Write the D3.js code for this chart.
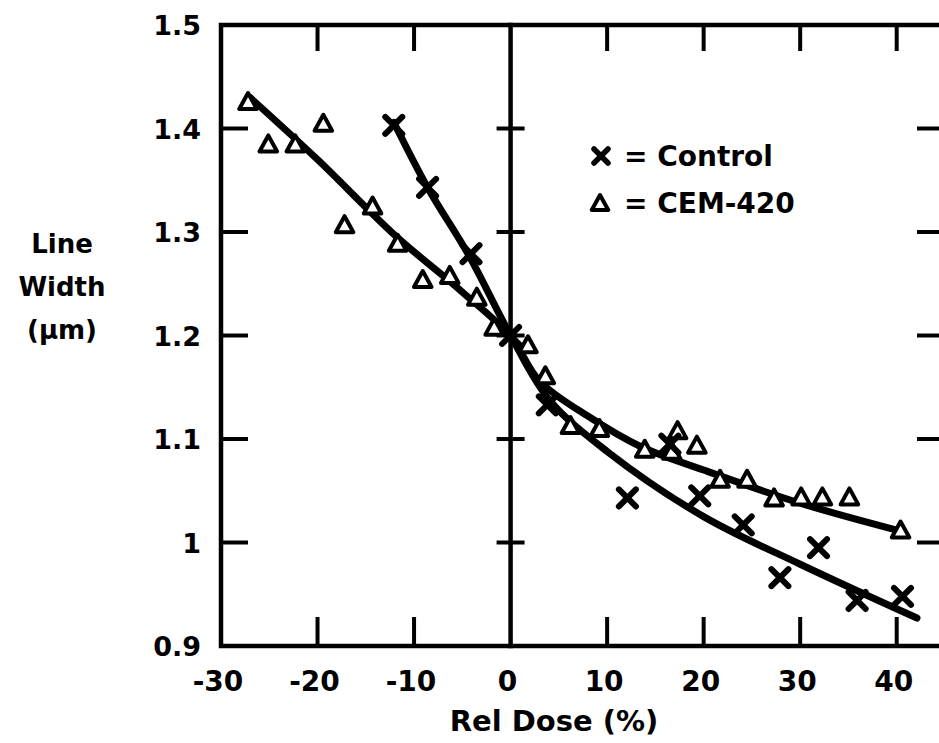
<!DOCTYPE html>
<html>
<head>
<meta charset="utf-8">
<script src="https://cdn.jsdelivr.net/npm/d3@7/dist/d3.min.js"></script>
<style>
  html, body { margin: 0; padding: 0; background: #fff; }
  svg { display: block; }
  text { font-family: "DejaVu Sans", "Liberation Sans", Arial, sans-serif; font-weight: bold; fill: #000; }
</style>
</head>
<body>
<svg id="chart" width="939" height="743"></svg>
<script>
// tick labels
const xTicks = [-30, -20, -10, 0, 10, 20, 30, 40];
const yTicks = [0.9, 1, 1.1, 1.2, 1.3, 1.4, 1.5];
const yTickLabels = ['0.9', '1', '1.1', '1.2', '1.3', '1.4', '1.5'];

// Control (x markers)
const controlDose = [-12.1, -8.6, -4.1, 0, 3.8, 12.1, 16.5, 19.6, 24.1, 27.9, 31.9, 35.9, 40.6];
const controlWidth = [1.403, 1.343, 1.279, 1.200, 1.133, 1.043, 1.095, 1.045, 1.017, 0.966, 0.995, 0.944, 0.948];

// CEM-420 (triangles)
const cemDose = [-27.2, -25.1, -22.3, -19.4, -17.2, -14.3, -11.7, -9.1, -6.3, -3.5, -1.7, 1.8, 3.6,
  6.2, 9.2, 13.9, 16.7, 17.3, 19.3, 21.7, 24.5, 27.3, 30.1, 32.3, 35.1, 40.4];
const cemWidth = [1.425, 1.384, 1.384, 1.404, 1.306, 1.324, 1.288, 1.253, 1.257, 1.236, 1.207, 1.190, 1.160,
  1.112, 1.109, 1.089, 1.087, 1.107, 1.093, 1.060, 1.060, 1.042, 1.043, 1.043, 1.043, 1.011];

// hand-drawn fit curves
const controlFitDose = [-12.1, -8.6, -4.3, 0, 4, 10, 20, 30, 42.1];
const controlFitWidth = [1.406, 1.343, 1.277, 1.200, 1.138, 1.088, 1.025, 0.979, 0.927];
const cemFitDose = [-27, -20, -12, -5, 0, 3, 8.2, 13.4, 20, 30, 40];
const cemFitWidth = [1.430, 1.370, 1.297, 1.242, 1.199, 1.156, 1.121, 1.093, 1.070, 1.038, 1.012];

const svg = d3.select('#chart');

const x = d3.scaleLinear().domain([-30, 44.9]).range([221, 944]);
const y = d3.scaleLinear().domain([0.9, 1.5]).range([646, 25]);

const [x0, x1] = x.range();
const [yB, yT] = y.range();

// frame
const frame = svg.append('g')
  .attr('stroke', '#000')
  .attr('stroke-width', 4.5)
  .attr('stroke-linecap', 'square');

frame.append('path')
  .attr('fill', 'none')
  .attr('d', `M${x1},${yT}H${x0}V${yB}H${x1}V${yT}`);

// vertical zero line
frame.append('line')
  .attr('x1', x(0)).attr('x2', x(0))
  .attr('y1', yT).attr('y2', yB);

// x ticks (top and bottom, inward)
const innerX = xTicks.filter(d => d !== -30 && d !== 0);
frame.selectAll('.xt-top').data(innerX).enter().append('line')
  .attr('x1', d => x(d)).attr('x2', d => x(d))
  .attr('y1', yT).attr('y2', yT + 24)
  .attr('stroke-width', 4);
frame.selectAll('.xt-bot').data(innerX).enter().append('line')
  .attr('x1', d => x(d)).attr('x2', d => x(d))
  .attr('y1', yB).attr('y2', yB - 27)
  .attr('stroke-width', 4);

// y ticks (left, right, and across the zero line)
const innerY = yTicks.filter(d => d !== 0.9 && d !== 1.5);
frame.selectAll('.yt-left').data(innerY).enter().append('line')
  .attr('x1', x0).attr('x2', x0 + 25)
  .attr('y1', d => y(d)).attr('y2', d => y(d))
  .attr('stroke-width', 4);
frame.selectAll('.yt-right').data(innerY).enter().append('line')
  .attr('x1', x1).attr('x2', x1 - 25)
  .attr('y1', d => y(d)).attr('y2', d => y(d))
  .attr('stroke-width', 4);
frame.selectAll('.yt-mid').data(innerY).enter().append('line')
  .attr('x1', x(0) - 12).attr('x2', x(0) + 12)
  .attr('y1', d => y(d)).attr('y2', d => y(d))
  .attr('stroke-width', 4);

// tick labels
svg.append('g').selectAll('text').data(xTicks).enter().append('text')
  .attr('x', d => x(d) - 3)
  .attr('y', yB + 45)
  .attr('text-anchor', 'middle')
  .attr('font-size', 28)
  .text(d => d);

svg.append('g').selectAll('text').data(yTicks).enter().append('text')
  .attr('x', 201)
  .attr('y', d => y(d) + 10)
  .attr('text-anchor', 'end')
  .attr('font-size', 27)
  .text((d, i) => yTickLabels[i]);

// axis titles
svg.append('text')
  .attr('x', 554).attr('y', 731)
  .attr('text-anchor', 'middle')
  .attr('font-size', 29)
  .text('Rel Dose (%)');

const yTitle = ['Line', 'Width', '(\u00b5m)'];
svg.append('g').selectAll('text').data(yTitle).enter().append('text')
  .attr('x', 62)
  .attr('y', (d, i) => 253 + i * 43)
  .attr('text-anchor', 'middle')
  .attr('font-size', 26)
  .text(d => d);

// fit curves
const line = d3.line()
  .x(d => x(d[0]))
  .y(d => y(d[1]))
  .curve(d3.curveCatmullRom.alpha(0.5));

svg.append('path')
  .datum(cemFitDose.map((d, i) => [d, cemFitWidth[i]]))
  .attr('fill', 'none').attr('stroke', '#000')
  .attr('stroke-width', 7).attr('stroke-linecap', 'round')
  .attr('d', line);

svg.append('path')
  .datum(controlFitDose.map((d, i) => [d, controlFitWidth[i]]))
  .attr('fill', 'none').attr('stroke', '#000')
  .attr('stroke-width', 7).attr('stroke-linecap', 'round')
  .attr('d', line);

// markers
const triPath = (s) => `M0,${-s * 0.6}L${s * 0.55},${s * 0.4}L${-s * 0.55},${s * 0.4}Z`;
const crossPath = (s) => `M${-s},${-s}L${s},${s}M${s},${-s}L${-s},${s}`;

svg.append('g').selectAll('path').data(cemDose).enter().append('path')
  .attr('transform', (d, i) => `translate(${x(d)},${y(cemWidth[i])})`)
  .attr('d', triPath(16))
  .attr('fill', '#fff')
  .attr('stroke', '#000')
  .attr('stroke-width', 4)
  .attr('stroke-linejoin', 'round');

svg.append('g').selectAll('path').data(controlDose).enter().append('path')
  .attr('transform', (d, i) => `translate(${x(d)},${y(controlWidth[i])})`)
  .attr('d', crossPath(8.5))
  .attr('fill', 'none')
  .attr('stroke', '#000')
  .attr('stroke-width', 6)
  .attr('stroke-linecap', 'round');

// legend
const legend = svg.append('g');
legend.append('path')
  .attr('transform', 'translate(601,156)')
  .attr('d', crossPath(7))
  .attr('stroke', '#000').attr('stroke-width', 5.5).attr('stroke-linecap', 'round');
legend.append('path')
  .attr('transform', 'translate(600,204)')
  .attr('d', triPath(15))
  .attr('fill', '#fff').attr('stroke', '#000').attr('stroke-width', 4)
  .attr('stroke-linejoin', 'round');
legend.append('text').attr('x', 624).attr('y', 166)
  .attr('font-size', 28)
  .text('= Control');
legend.append('text').attr('x', 624).attr('y', 213)
  .attr('font-size', 28)
  .text('= CEM-420');
</script>
</body>
</html>
